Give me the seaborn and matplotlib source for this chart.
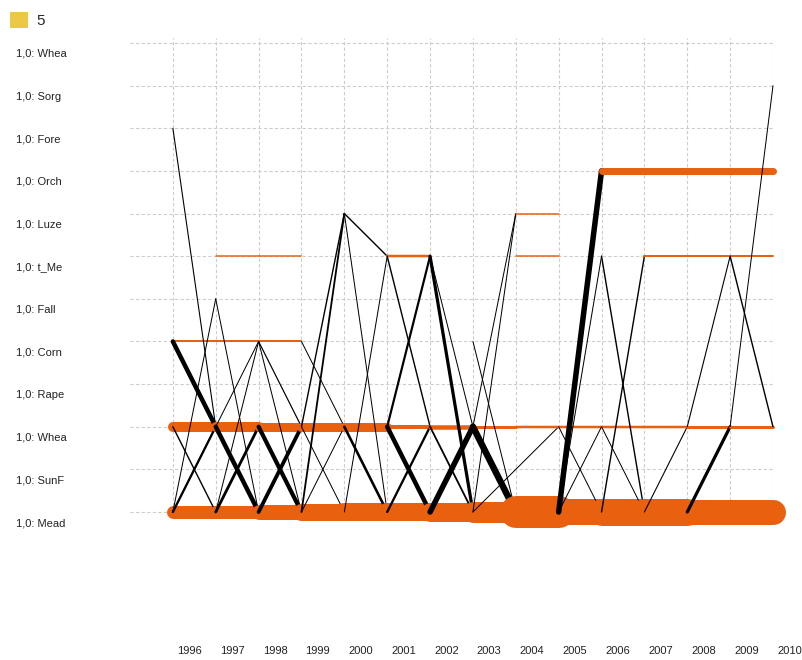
import numpy as np
import pandas as pd
import matplotlib
matplotlib.use("Agg")
import matplotlib.pyplot as plt
import seaborn as sns
from matplotlib.transforms import ScaledTranslation
from matplotlib.patches import Patch

# ---------------- data ----------------
years = list(range(1996, 2011))
crop_codes = ["Mead", "SunF", "Whea", "Rape", "Corn", "Fall",
              "t_Me", "Luze", "Orch", "Fore", "Sorg", "WheaT"]
crop_labels = ["1,0: Mead", "1,0: SunF", "1,0: Whea", "1,0: Rape", "1,0: Corn",
               "1,0: Fall", "1,0: t_Me", "1,0: Luze", "1,0: Orch", "1,0: Fore",
               "1,0: Sorg", "1,0: Whea"]

# fields that keep the same crop from one year to the next
stay_year = [1996, 1997, 1998, 1999, 2000, 2001, 2002, 2003, 2004, 2005, 2006, 2007, 2008, 2009,
             1996, 1997, 1998, 1999, 2000, 2001, 2002, 2003, 2004, 2005, 2006, 2007, 2008, 2009,
             1996, 1997, 1998,
             1997, 1998, 2001, 2004, 2007, 2008, 2009,
             2004,
             2006, 2007, 2008, 2009]
stay_crop = ["Mead"] * 14 + ["Whea"] * 14 + ["Corn"] * 3 + ["t_Me"] * 7 + ["Luze"] + ["Orch"] * 4
stay_count = [13, 13, 15, 17, 18, 18, 19, 21, 32, 26, 27, 27, 25, 25,
              10, 10, 9, 9, 9, 4, 4.5, 3, 2.5, 2.5, 2.5, 2.5, 3, 3,
              2, 2, 2,
              1.5, 1.5, 2.5, 1.5, 2, 2, 2,
              1.5,
              7, 7, 7, 7]

# fields that change crop
trans_from_year = [1996, 1996, 1996, 1996, 1996,
                   1997, 1997, 1997, 1997, 1997,
                   1998, 1998, 1998, 1998,
                   1999, 1999, 1999, 1999, 1999,
                   2000, 2000, 2000, 2000,
                   2001, 2001, 2001, 2001,
                   2002, 2002, 2002, 2002,
                   2003, 2003, 2003, 2003, 2003,
                   2005, 2005, 2005, 2005,
                   2006, 2006, 2006,
                   2007,
                   2008, 2008,
                   2009, 2009]
trans_from_crop = ["Fore", "Corn", "Whea", "Mead", "Mead",
                   "Whea", "Mead", "Mead", "Fall", "Whea",
                   "Whea", "Mead", "Corn", "Corn",
                   "Corn", "Whea", "Mead", "Whea", "Mead",
                   "Luze", "Luze", "Mead", "Whea",
                   "t_Me", "Whea", "Whea", "Mead",
                   "t_Me", "t_Me", "Mead", "Whea",
                   "Whea", "Whea", "Mead", "Corn", "Mead",
                   "Mead", "Mead", "Mead", "Whea",
                   "t_Me", "Whea", "Mead",
                   "Mead",
                   "Whea", "Mead",
                   "t_Me", "Whea"]
trans_to_year = [1997, 1997, 1997, 1997, 1997,
                 1998, 1998, 1998, 1998, 1998,
                 1999, 1999, 1999, 1999,
                 2000, 2000, 2000, 2000, 2000,
                 2001, 2001, 2001, 2001,
                 2002, 2002, 2002, 2002,
                 2003, 2003, 2003, 2003,
                 2004, 2004, 2004, 2004, 2005,
                 2006, 2006, 2006, 2006,
                 2007, 2007, 2007,
                 2008,
                 2009, 2009,
                 2010, 2010]
trans_to_crop = ["Whea", "Whea", "Mead", "Whea", "Fall",
                 "Mead", "Whea", "Corn", "Mead", "Corn",
                 "Mead", "Whea", "Whea", "Mead",
                 "Whea", "Luze", "Luze", "Mead", "Whea",
                 "t_Me", "Mead", "t_Me", "Mead",
                 "Whea", "t_Me", "Mead", "Whea",
                 "Mead", "Whea", "Whea", "Mead",
                 "Mead", "Luze", "Luze", "Mead", "Whea",
                 "Orch", "t_Me", "Whea", "Mead",
                 "Mead", "Mead", "t_Me",
                 "Whea",
                 "t_Me", "Whea",
                 "Whea", "Sorg"]
trans_count = [1.1, 4.5, 1.4, 2.3, 1,
               4.5, 2.8, 1, 1, 1,
               4.2, 3.8, 1.2, 1,
               1, 1.4, 1.8, 1, 1,
               1.4, 1, 1, 2.6,
               1.4, 2.2, 4.5, 2.3,
               3.2, 1, 5.5, 1.8,
               6.5, 1, 1, 1, 1,
               5.5, 1, 1, 1,
               1.4, 1, 1.4,
               1.1,
               1.1, 3.2,
               1.4, 1]

legend_label = "5"

# ---------------- styling ----------------
ORANGE = "#E9600F"
BLACK = "#000000"
LEGEND_COLOR = "#EBC944"
row_of = {c: i for i, c in enumerate(crop_codes)}
PX = 72.0 / 100.0  # points per pixel at dpi 100

sns.set_theme(style="white")
plt.rcParams["font.family"] = ["Liberation Sans", "DejaVu Sans"]

# long-form tables, one segment = one unit
stay_rows = []
for i, (y, c, n) in enumerate(zip(stay_year, stay_crop, stay_count)):
    stay_rows.append(dict(seg=i, start=y, year=y, row=row_of[c], count=n))
    stay_rows.append(dict(seg=i, start=y, year=y + 1, row=row_of[c], count=n))
stays = pd.DataFrame(stay_rows)

trans_rows = []
for i, (y0, c0, y1, c1, n) in enumerate(zip(trans_from_year, trans_from_crop,
                                             trans_to_year, trans_to_crop, trans_count)):
    trans_rows.append(dict(seg=i, start=y0, year=y0, row=row_of[c0], count=n))
    trans_rows.append(dict(seg=i, start=y0, year=y1, row=row_of[c1], count=n))
trans = pd.DataFrame(trans_rows)

size_lo, size_hi = 0.5, 40.0

fig = plt.figure(figsize=(8.03, 6.60), dpi=100)
W, H = 803, 660
ax_left, ax_right, ax_top, ax_bottom = 130, 773, 38, 517
ax = fig.add_axes([ax_left / W, (H - ax_bottom) / H,
                   (ax_right - ax_left) / W, (ax_bottom - ax_top) / H])

row_px = (512 - 43) / 11.0
ax.set_xlim(1995, 2010)
ax.set_ylim(-(ax_bottom - 512) / row_px, 11 + (43 - ax_top) / row_px)

for y0 in years[:-1]:
    s = stays[stays["start"] == y0]
    if len(s):
        sns.lineplot(data=s, x="year", y="row", units="seg", estimator=None,
                     size="count", sizes=(size_lo * PX, size_hi * PX),
                     size_norm=(size_lo, size_hi), color=ORANGE, legend=False,
                     ax=ax, solid_capstyle="round", clip_on=False, sort=False)
    t = trans[trans["start"] == y0]
    if len(t):
        sns.lineplot(data=t, x="year", y="row", units="seg", estimator=None,
                     size="count", sizes=(size_lo * PX, size_hi * PX),
                     size_norm=(size_lo, size_hi), color=BLACK, legend=False,
                     ax=ax, solid_capstyle="round", clip_on=False, sort=False)

# grid
ax.set_axisbelow(True)
ax.grid(True, color="#cdcdcd", linestyle=(0, (3, 2)), linewidth=0.8)
for sp in ax.spines.values():
    sp.set_visible(False)

ax.set_xticks(years)
ax.set_xticklabels([str(y) for y in years])
ax.set_yticks(range(len(crop_labels)))
ax.set_yticklabels(crop_labels)
ax.set_xlabel("")
ax.set_ylabel("")
ax.tick_params(axis="x", length=0, pad=(646 - ax_bottom) * PX, labelsize=8, colors="#222222")
ax.tick_params(axis="y", length=0, pad=(ax_left - 16) * PX, labelsize=8, colors="#222222")
for lab in ax.get_xticklabels():
    lab.set_ha("left")
    lab.set_va("top")
    lab.set_transform(lab.get_transform() + ScaledTranslation(4 / 100, 0, fig.dpi_scale_trans))
for lab in ax.get_yticklabels():
    lab.set_ha("left")
    lab.set_transform(lab.get_transform() + ScaledTranslation(0, -10 / 100, fig.dpi_scale_trans))

fig.legend(handles=[Patch(facecolor=LEGEND_COLOR, edgecolor="none")], labels=[legend_label],
           loc="upper left", bbox_to_anchor=(10 / W, 1 - 12 / H), frameon=False,
           fontsize=11, handlelength=1.2, handleheight=1.2, handletextpad=0.55,
           borderpad=0, borderaxespad=0)

fig.savefig("out.png", dpi=100)
